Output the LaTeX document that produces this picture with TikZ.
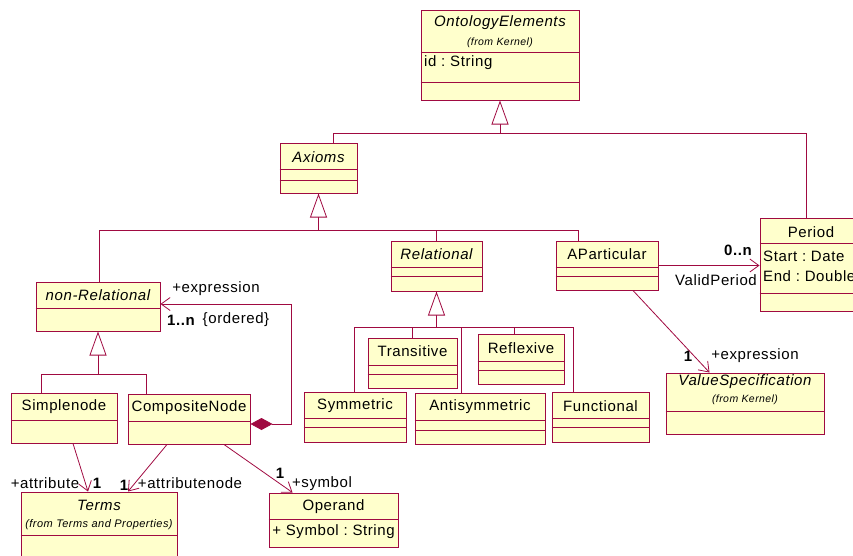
\documentclass[tikz,border=0pt]{standalone}
\usepackage{fontspec}
\setmainfont[LetterSpace=4]{Liberation Sans}
\usetikzlibrary{arrows.meta,calc}

\definecolor{umlred}{RGB}{160,10,65}
\definecolor{umlfill}{RGB}{255,255,204}
\frenchspacing

\begin{document}
\begin{tikzpicture}
[
x=1pt, y=-1pt,
Cls/.style={rectangle, draw=umlred, fill=umlfill, line width=1pt, inner sep=0pt},
Divline/.style={draw=umlred, line width=0.8pt},
Txt/.style={inner sep=0pt, font=\fontsize{15}{17}\selectfont},
Ital/.style={Txt, font=\fontsize{15}{17}\selectfont\itshape},
Small/.style={inner sep=0pt, font=\fontsize{10.5}{12}\selectfont\itshape},
Mult/.style={Txt, font=\fontsize{15}{17}\selectfont\bfseries},
Line/.style={draw=umlred, line width=0.8pt},
Gen/.style={Line, -{Triangle[open, length=24pt, width=17pt, fill=white]}},
Assoc/.style={Line, -{Straight Barb[length=9pt, width=13pt]}},
Compo/.style={Line, {Diamond[length=22pt, width=12pt, fill=umlred]}-{Straight Barb[length=9pt, width=13pt]}},
]

\useasboundingbox (0,0) rectangle (853,555);
\clip (0,0) rectangle (853,555);

% class boxes
\node[Cls, minimum width=158, minimum height=90] (onto)    at (500,55)    {};
\node[Cls, minimum width=77,  minimum height=50] (axioms)  at (318.5,168) {};
\node[Cls, minimum width=102, minimum height=93] (period)  at (811,264.5) {};
\node[Cls, minimum width=124, minimum height=49] (nonrel)  at (98,306.5)  {};
\node[Cls, minimum width=91,  minimum height=50] (rel)     at (436.5,266) {};
\node[Cls, minimum width=102, minimum height=49] (apart)   at (607,265.5) {};
\node[Cls, minimum width=89,  minimum height=50] (trans)   at (412.5,363) {};
\node[Cls, minimum width=86,  minimum height=50] (refl)    at (521,359)   {};
\node[Cls, minimum width=102, minimum height=50] (sym)     at (355,417)   {};
\node[Cls, minimum width=130, minimum height=51] (anti)    at (480,418.5) {};
\node[Cls, minimum width=97,  minimum height=50] (func)    at (600.5,417) {};
\node[Cls, minimum width=158, minimum height=61] (valspec) at (745,403.5) {};
\node[Cls, minimum width=106, minimum height=50] (simple)  at (64,418)    {};
\node[Cls, minimum width=122, minimum height=50] (comp)    at (189,419)   {};
\node[Cls, minimum width=156, minimum height=78] (terms)   at (99,531)    {};
\node[Cls, minimum width=129, minimum height=54] (operand) at (333.5,520) {};

% compartments
\draw[Divline] (onto.west |- 0,52) -- (onto.east |- 0,52);
\draw[Divline] (onto.west |- 0,82) -- (onto.east |- 0,82);
\draw[Divline] (axioms.west |- 0,169) -- (axioms.east |- 0,169);
\draw[Divline] (axioms.west |- 0,180) -- (axioms.east |- 0,180);
\draw[Divline] (period.west |- 0,243) -- (period.east |- 0,243);
\draw[Divline] (period.west |- 0,293) -- (period.east |- 0,293);
\draw[Divline] (nonrel.west |- 0,308) -- (nonrel.east |- 0,308);
\draw[Divline] (rel.west |- 0,267) -- (rel.east |- 0,267);
\draw[Divline] (rel.west |- 0,276) -- (rel.east |- 0,276);
\draw[Divline] (apart.west |- 0,267) -- (apart.east |- 0,267);
\draw[Divline] (apart.west |- 0,276) -- (apart.east |- 0,276);
\draw[Divline] (trans.west |- 0,365) -- (trans.east |- 0,365);
\draw[Divline] (trans.west |- 0,374) -- (trans.east |- 0,374);
\draw[Divline] (refl.west |- 0,361) -- (refl.east |- 0,361);
\draw[Divline] (refl.west |- 0,370) -- (refl.east |- 0,370);
\draw[Divline] (sym.west |- 0,418) -- (sym.east |- 0,418);
\draw[Divline] (sym.west |- 0,427) -- (sym.east |- 0,427);
\draw[Divline] (anti.west |- 0,420) -- (anti.east |- 0,420);
\draw[Divline] (anti.west |- 0,430) -- (anti.east |- 0,430);
\draw[Divline] (func.west |- 0,418) -- (func.east |- 0,418);
\draw[Divline] (func.west |- 0,427) -- (func.east |- 0,427);
\draw[Divline] (valspec.west |- 0,411) -- (valspec.east |- 0,411);
\draw[Divline] (simple.west |- 0,420) -- (simple.east |- 0,420);
\draw[Divline] (comp.west |- 0,421) -- (comp.east |- 0,421);
\draw[Divline] (terms.west |- 0,535) -- (terms.east |- 0,535);
\draw[Divline] (operand.west |- 0,519) -- (operand.east |- 0,519);

% class texts
\node[Ital]  (onto-t)    at (500,23)  {OntologyElements};
\node[Small] (onto-f)    at (500,43)  {(from Kernel)};
\node[Txt, anchor=west] (onto-a) at (424,63) {id : String};
\node[Ital]  (axioms-t)  at (318.5,157) {Axioms};
\node[Txt]   (period-t)  at (811,232) {Period};
\node[Txt, anchor=west] (period-a) at (763,256) {Start : Date};
\node[Txt, anchor=west] (period-b) at (763,276) {End : Double};
\node[Ital]  (nonrel-t)  at (98,295)  {non-Relational};
\node[Ital]  (rel-t)     at (436.5,254) {Relational};
\node[Txt]   (apart-t)   at (607,254) {AParticular};
\node[Txt]   (trans-t)   at (412.5,351) {Transitive};
\node[Txt]   (refl-t)    at (521,348) {Reflexive};
\node[Txt]   (sym-t)     at (355,406) {Symmetric};
\node[Txt]   (anti-t)    at (480,407) {Antisymmetric};
\node[Txt]   (func-t)    at (600.5,406) {Functional};
\node[Ital]  (valspec-t) at (745,382) {ValueSpecification};
\node[Small] (valspec-f) at (745,400) {(from Kernel)};
\node[Txt]   (simple-t)  at (64,407)  {Simplenode};
\node[Txt]   (comp-t)    at (189,408) {CompositeNode};
\node[Ital]  (terms-t)   at (99,505)  {Terms};
\node[Small, font=\fontsize{11}{13}\selectfont\itshape] (terms-f) at (99,525) {(from Terms and Properties)};
\node[Txt]   (operand-t) at (333.5,507) {Operand};
\node[Txt]   (operand-a) at (333.5,532) {+ Symbol : String};

% bends
\coordinate (b1)  at (333,133);
\coordinate (b2)  at (806,133);
\coordinate (b3)  at (99,230);
\coordinate (b4)  at (578,230);
\coordinate (b5)  at (354,327);
\coordinate (b6)  at (461,327);
\coordinate (b7)  at (514,327);
\coordinate (b8)  at (573,327);
\coordinate (b9)  at (41,374);
\coordinate (b10) at (146,374);
\coordinate (b11) at (291,424);
\coordinate (b12) at (291,304);

% generalizations
\draw[Gen]  (axioms.north -| b1) |- (onto.south |- b1) -- (onto.south);
\draw[Line] (period.north -| b2) |- (onto.south |- b1);

\draw[Gen]  (nonrel.north -| b3) |- (axioms.south |- b3) -- (axioms.south);
\draw[Line] (rel.north) -- (rel.north |- b3);
\draw[Line] (apart.north -| b4) |- (axioms.south |- b3);

\draw[Gen]  (sym.north -| b5) |- (rel.south |- b5) -- (rel.south);
\draw[Line] (func.north -| b8) |- (rel.south |- b5);
\draw[Line] (trans.north) -- (trans.north |- b5);
\draw[Line] (anti.north -| b6) -- (b6);
\draw[Line] (refl.north -| b7) -- (b7);

\draw[Gen]  (simple.north -| b9) |- (nonrel.south |- b9) -- (nonrel.south);
\draw[Line] (comp.north -| b10) |- (nonrel.south |- b9);

% associations
\draw[Compo] (comp.east |- b11) -- (b11) -- (b12) -- (nonrel.east |- b12);
\draw[Assoc] (apart.east) -- (apart.east -| period.west);
\draw[Assoc] ($(apart.south)+(26,0)$) -- ($(valspec.north west)+(44,0)$);
\draw[Assoc] ($(simple.south)+(9,0)$) -- ($(terms.north)+(-11,0)$);
\draw[Assoc] ($(comp.south)+(-22,0)$) -- ($(terms.north)+(29,0)$);
\draw[Assoc] ($(comp.south)+(35,0)$) -- ($(operand.north west)+(24,0)$);

% role names
\node[Txt]  (l-expr)   at (216,289) {+expression};
\node[Mult] (l-1n)     at (181,320) {1..n};
\node[Txt]  (l-ord)    at (236,320) {\{ordered\}};
\node[Mult] (l-0n)     at (738,250) {0..n};
\node[Txt]  (l-valid)  at (716,280) {ValidPeriod};
\node[Mult] (l-one1)   at (688,356) {1};
\node[Txt]  (l-expr2)  at (755,356) {+expression};
\node[Txt]  (l-attr)   at (45,483)  {+attribute};
\node[Mult] (l-one2)   at (97,483)  {1};
\node[Mult] (l-one3)   at (124,485) {1};
\node[Txt]  (l-attrn)  at (190,483) {+attributenode};
\node[Mult] (l-one4)   at (280,473) {1};
\node[Txt]  (l-sym)    at (322,484) {+symbol};

\end{tikzpicture}
\end{document}
